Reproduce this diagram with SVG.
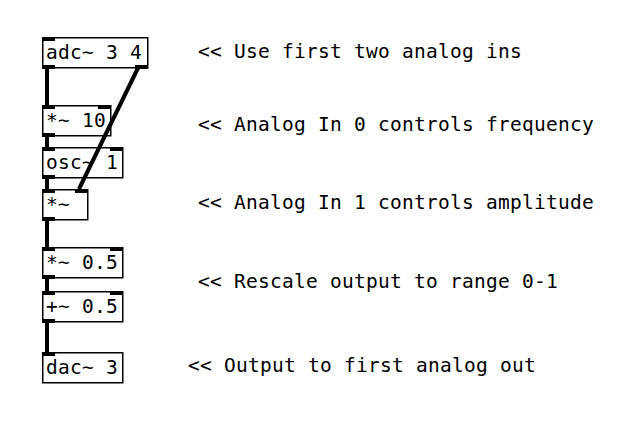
<svg xmlns="http://www.w3.org/2000/svg" width="624" height="444" viewBox="0 0 624 444">
<style>
.box{fill:#fff;stroke:#000;stroke-width:1.5}
.io{fill:#000}
.t{font-family:"DejaVu Sans Mono","Liberation Mono",monospace;font-size:19.5px;letter-spacing:0.26px;fill:#000}
.c{stroke:#000;stroke-width:4;fill:none}
</style>
<rect width="624" height="444" fill="#fff"/>
<g id="adc">
<rect class="box" x="42.75" y="37.75" width="105" height="30"/>
<rect class="io" x="42" y="37" width="13" height="4"/>
<rect class="io" x="42" y="65" width="13" height="4"/>
<rect class="io" x="135" y="65" width="13" height="4"/>
<text class="t" x="46" y="59">adc~ 3 4</text>
</g>
<g id="mul10">
<rect class="box" x="42.75" y="105.75" width="68" height="30"/>
<rect class="io" x="42" y="105" width="13" height="4"/>
<rect class="io" x="98" y="105" width="13" height="4"/>
<rect class="io" x="42" y="133" width="13" height="4"/>
<text class="t" x="46" y="127">*~ 10</text>
</g>
<g id="osc">
<rect class="box" x="42.75" y="147.75" width="80" height="30"/>
<rect class="io" x="42" y="147" width="13" height="4"/>
<rect class="io" x="110" y="147" width="13" height="4"/>
<rect class="io" x="42" y="175" width="13" height="4"/>
<text class="t" x="46" y="169">osc~ 1</text>
</g>
<g id="mul">
<rect class="box" x="42.75" y="189.75" width="45" height="30"/>
<rect class="io" x="42" y="189" width="13" height="4"/>
<rect class="io" x="75" y="189" width="13" height="4"/>
<rect class="io" x="42" y="217" width="13" height="4"/>
<text class="t" x="46" y="211">*~</text>
</g>
<g id="mul05">
<rect class="box" x="42.75" y="247.75" width="80" height="30"/>
<rect class="io" x="42" y="247" width="13" height="4"/>
<rect class="io" x="110" y="247" width="13" height="4"/>
<rect class="io" x="42" y="275" width="13" height="4"/>
<text class="t" x="46" y="269">*~ 0.5</text>
</g>
<g id="add05">
<rect class="box" x="42.75" y="291.75" width="80" height="30"/>
<rect class="io" x="42" y="291" width="13" height="4"/>
<rect class="io" x="110" y="291" width="13" height="4"/>
<rect class="io" x="42" y="319" width="13" height="4"/>
<text class="t" x="46" y="313">+~ 0.5</text>
</g>
<g id="dac">
<rect class="box" x="42.75" y="352.75" width="80" height="30"/>
<rect class="io" x="42" y="352" width="13" height="4"/>
<text class="t" x="46" y="374">dac~ 3</text>
</g>
<g id="connectors">
<line class="c" x1="47" y1="68" x2="47" y2="105"/>
<line class="c" x1="47" y1="136" x2="47" y2="147"/>
<line class="c" x1="47" y1="178" x2="47" y2="189"/>
<line class="c" x1="47" y1="221" x2="47" y2="247"/>
<line class="c" x1="47" y1="278" x2="47" y2="291"/>
<line class="c" x1="47" y1="322" x2="47" y2="352"/>
<line class="c" x1="138" y1="68" x2="79" y2="189"/>
</g>
<g id="comments">
<text class="t" x="198" y="58">&lt;&lt; Use first two analog ins</text>
<text class="t" x="198" y="131">&lt;&lt; Analog In 0 controls frequency</text>
<text class="t" x="198" y="209">&lt;&lt; Analog In 1 controls amplitude</text>
<text class="t" x="198" y="288">&lt;&lt; Rescale output to range 0-1</text>
<text class="t" x="188" y="372">&lt;&lt; Output to first analog out</text>
</g>
</svg>
